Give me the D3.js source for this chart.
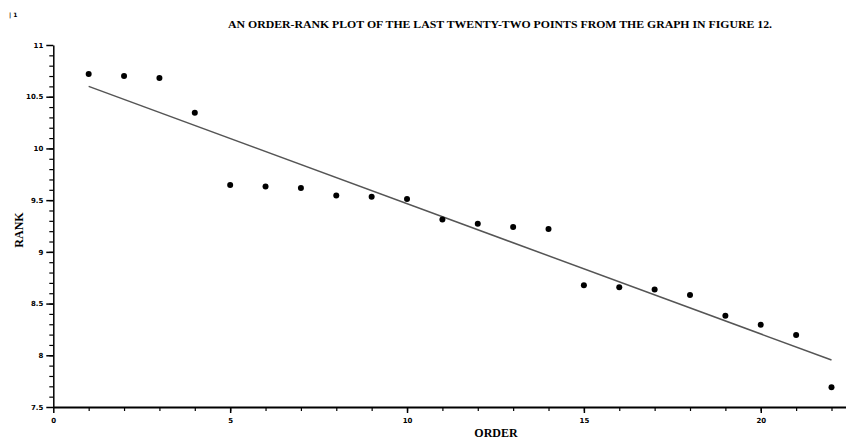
<!DOCTYPE html>
<html lang="en">
<head>
    <meta charset="UTF-8">
    <title>Order-rank plot</title>
    <script src="https://cdnjs.cloudflare.com/ajax/libs/d3/7.8.5/d3.min.js"></script>
    <style>
        body { margin: 0; background: #fff; }
    </style>
</head>
<body>
    <div id="wrapper"></div>
    <script>
        // data
        const orders = [1, 2, 3, 4, 5, 6, 7, 8, 9, 10, 11, 12, 13, 14, 15, 16, 17, 18, 19, 20, 21, 22]
        const ranks = [10.72, 10.70, 10.68, 10.345, 9.646, 9.633, 9.617, 9.546, 9.533, 9.51, 9.314,
                       9.272, 9.24, 9.22, 8.676, 8.657, 8.637, 8.582, 8.382, 8.295, 8.195, 7.692]
        const xMajorTicks = [0, 5, 10, 15, 20]
        const yMajorTicks = [7.5, 8, 8.5, 9, 9.5, 10, 10.5, 11]

        const dataset = orders.map((o, i) => ({ order: o, rank: ranks[i] }))
        const xAccessor = d => d.order
        const yAccessor = d => d.rank

        const width = 846
        const height = 441

        const svg = d3.select('#wrapper')
            .append('svg')
                .attr('width', width)
                .attr('height', height)
                .attr('viewBox', `0 0 ${width} ${height}`)

        const xScale = d3.scaleLinear()
            .domain([0, 22.41])
            .range([53.3, 846])

        const yScale = d3.scaleLinear()
            .domain([7.5, 11])
            .range([407, 45])

        // least squares fit line
        const mx = d3.mean(dataset, xAccessor)
        const my = d3.mean(dataset, yAccessor)
        const slope = d3.sum(dataset, d => (xAccessor(d) - mx) * (yAccessor(d) - my)) /
                      d3.sum(dataset, d => (xAccessor(d) - mx) ** 2)
        const fit = x => my + slope * (x - mx)
        const xFirst = d3.min(orders), xLast = d3.max(orders)

        svg.append('line')
            .attr('x1', xScale(xFirst))
            .attr('y1', yScale(fit(xFirst)))
            .attr('x2', xScale(xLast))
            .attr('y2', yScale(fit(xLast)))
            .attr('stroke', '#555')
            .attr('stroke-width', 1.5)

        svg.append('g').selectAll('circle')
            .data(dataset)
            .join('circle')
                .attr('cx', d => xScale(xAccessor(d)))
                .attr('cy', d => yScale(yAccessor(d)))
                .attr('r', 3)
                .attr('fill', '#000')

        // axes
        const tickFont = g => g.selectAll('text')
            .attr('font-family', 'DejaVu Sans')
            .attr('font-weight', 'bold')
            .attr('font-size', 7)
            .attr('fill', '#000')

        const xMinor = svg.append('g')
            .attr('transform', `translate(0,${yScale(7.5)})`)
            .call(d3.axisBottom(xScale).tickValues(d3.range(1, 23)).tickSize(4).tickFormat(''))
        xMinor.select('.domain').remove()
        xMinor.selectAll('line').attr('stroke-width', 1.2)

        const xAxis = svg.append('g')
            .attr('transform', `translate(0,${yScale(7.5)})`)
            .call(d3.axisBottom(xScale).tickValues(xMajorTicks).tickSize(6).tickSizeOuter(0).tickPadding(5))
            .call(tickFont)
        xAxis.select('.domain').attr('stroke-width', 2)
        xAxis.selectAll('.tick line').attr('stroke-width', 1.5)

        const yMinor = svg.append('g')
            .attr('transform', `translate(${xScale(0)},0)`)
            .call(d3.axisLeft(yScale).tickValues(d3.range(7.6, 11, 0.1)).tickSize(4).tickFormat(''))
        yMinor.select('.domain').remove()
        yMinor.selectAll('line').attr('stroke-width', 1.2)

        const yAxis = svg.append('g')
            .attr('transform', `translate(${xScale(0)},0)`)
            .call(d3.axisLeft(yScale).tickValues(yMajorTicks).tickSize(7).tickSizeOuter(0).tickPadding(3)
                .tickFormat(d3.format('')))
            .call(tickFont)
        yAxis.select('.domain').attr('stroke-width', 1.5)
        yAxis.selectAll('.tick line').attr('stroke-width', 1.5)

        // texts
        svg.append('text')
            .attr('x', 500)
            .attr('y', 27.5)
            .attr('text-anchor', 'middle')
            .attr('font-family', 'Liberation Serif')
            .attr('font-weight', 'bold')
            .attr('font-size', 10)
            .attr('textLength', 544)
            .attr('lengthAdjust', 'spacingAndGlyphs')
            .text('AN ORDER-RANK PLOT OF THE LAST TWENTY-TWO POINTS FROM THE GRAPH IN FIGURE 12.')

        svg.append('text')
            .attr('x', 496)
            .attr('y', 437)
            .attr('text-anchor', 'middle')
            .attr('font-family', 'Liberation Serif')
            .attr('font-weight', 'bold')
            .attr('font-size', 12)
            .text('ORDER')

        svg.append('text')
            .attr('transform', 'translate(23,230) rotate(-90)')
            .attr('text-anchor', 'middle')
            .attr('font-family', 'Liberation Serif')
            .attr('font-weight', 'bold')
            .attr('font-size', 12)
            .text('RANK')

        svg.append('text')
            .attr('x', 9)
            .attr('y', 17)
            .attr('font-family', 'DejaVu Sans')
            .attr('font-weight', 'bold')
            .attr('font-size', 6)
            .text('| 1')
    </script>
</body>
</html>
